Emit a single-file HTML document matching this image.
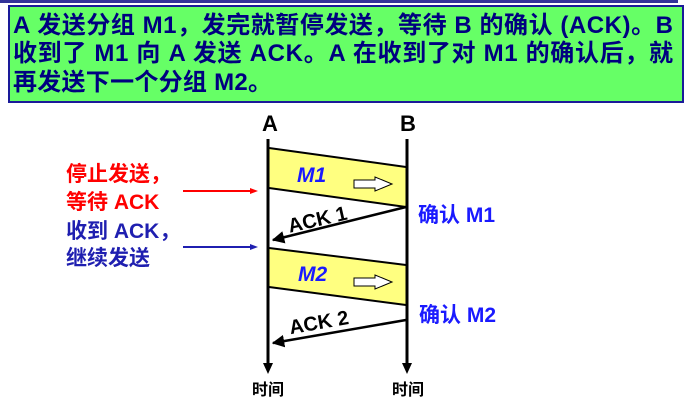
<!DOCTYPE html>
<html>
<head>
<meta charset="utf-8">
<style>
  html, body { margin:0; padding:0; background:#ffffff; }
  svg { display:block; }
  .hd { font-family:"Liberation Sans","Noto Sans CJK SC",sans-serif; font-weight:bold; font-size:24px; fill:#000080; }
  .f { font-family:"Liberation Sans","Noto Sans CJK SC",sans-serif; font-weight:bold; }
</style>
</head>
<body>
<svg width="688" height="415" viewBox="0 0 688 415" xmlns="http://www.w3.org/2000/svg">
  <defs>
    <marker id="ah" viewBox="0 0 10 10" refX="9" refY="5" markerWidth="5" markerHeight="5" orient="auto" markerUnits="strokeWidth">
      <path d="M0,0 L10,5 L0,10 z" fill="#000"/>
    </marker>
  </defs>

  <!-- top bar -->
  <rect x="0" y="0" width="678" height="3" fill="#333399"/>
  <!-- green header box -->
  <rect x="9" y="6" width="674" height="96" fill="#66ff66" stroke="#1a1a99" stroke-width="2"/>
  <text class="hd" x="13" y="33" textLength="660" lengthAdjust="spacing">A 发送分组 M1，发完就暂停发送，等待 B 的确认 (ACK)。B</text>
  <text class="hd" x="13" y="61" textLength="660" lengthAdjust="spacing">收到了 M1 向 A 发送  ACK。A 在收到了对 M1 的确认后，就</text>
  <text class="hd" x="13" y="90" textLength="259" lengthAdjust="spacing">再发送下一个分组  M2。</text>

  <!-- A / B labels -->
  <text class="f" x="270" y="131" font-size="22" text-anchor="middle" fill="#000">A</text>
  <text class="f" x="408" y="131" font-size="22" text-anchor="middle" fill="#000">B</text>

  <!-- M1 frame -->
  <polygon points="269,148 406,167 406,207 269,188" fill="#ffff80"/>
  <line x1="269" y1="148" x2="406" y2="167" stroke="#000" stroke-width="2"/>
  <line x1="269" y1="188" x2="406" y2="207" stroke="#000" stroke-width="2"/>
  <text class="f" x="297" y="182" font-size="21" font-style="italic" fill="#1a1aff">M1</text>
  <polygon points="354,180 375,180 375,177 392,184 375,191 375,188 354,188" fill="#fff" stroke="#000" stroke-width="1"/>

  <!-- M2 frame -->
  <polygon points="269,248 406,265 406,305 269,287" fill="#ffff80"/>
  <line x1="269" y1="248" x2="406" y2="265" stroke="#000" stroke-width="2"/>
  <line x1="269" y1="287" x2="406" y2="305" stroke="#000" stroke-width="2"/>
  <text class="f" x="298" y="281" font-size="21" font-style="italic" fill="#1a1aff">M2</text>
  <polygon points="354,278 375,278 375,275 392,282 375,289 375,286 354,286" fill="#fff" stroke="#000" stroke-width="1"/>

  <!-- ACK lines -->
  <line x1="406" y1="207" x2="273" y2="240" stroke="#000" stroke-width="2.5" marker-end="url(#ah)"/>
  <line x1="406" y1="320" x2="273" y2="343" stroke="#000" stroke-width="2.5" marker-end="url(#ah)"/>
  <text class="f" x="319" y="226" font-size="20" text-anchor="middle" fill="#000" transform="rotate(-13 319 226)">ACK 1</text>
  <text class="f" x="320" y="329" font-size="20" text-anchor="middle" fill="#000" transform="rotate(-10 320 329)">ACK 2</text>

  <!-- timelines -->
  <line x1="268" y1="139" x2="268" y2="364" stroke="#000" stroke-width="3"/>
  <polygon points="263,363 273,363 268,374" fill="#000"/>
  <line x1="407" y1="139" x2="407" y2="364" stroke="#000" stroke-width="3"/>
  <polygon points="402,363 412,363 407,374" fill="#000"/>

  <!-- time labels -->
  <text class="f" x="268" y="395" font-size="16" text-anchor="middle" fill="#000">时间</text>
  <text class="f" x="408" y="395" font-size="16" text-anchor="middle" fill="#000">时间</text>

  <!-- right labels -->
  <text class="f" x="418" y="222" font-size="21" fill="#1a1aff">确认 M1</text>
  <text class="f" x="419" y="322" font-size="21" fill="#1a1aff">确认 M2</text>

  <!-- left labels -->
  <text class="f" x="66" y="181" font-size="21" fill="#ff0000">停止发送，</text>
  <text class="f" x="66" y="209" font-size="21" fill="#ff0000">等待 ACK</text>
  <text class="f" x="66" y="238" font-size="21" fill="#1f1fb0">收到 ACK，</text>
  <text class="f" x="66" y="265" font-size="21" fill="#1f1fb0">继续发送</text>

  <!-- left arrows -->
  <line x1="183" y1="191" x2="252" y2="191" stroke="#ff0000" stroke-width="2"/>
  <polygon points="250,188 258,191 250,194" fill="#ff0000"/>
  <line x1="183" y1="247" x2="252" y2="247" stroke="#1f1fb0" stroke-width="2"/>
  <polygon points="250,244 258,247 250,250" fill="#1f1fb0"/>
</svg>
</body>
</html>
